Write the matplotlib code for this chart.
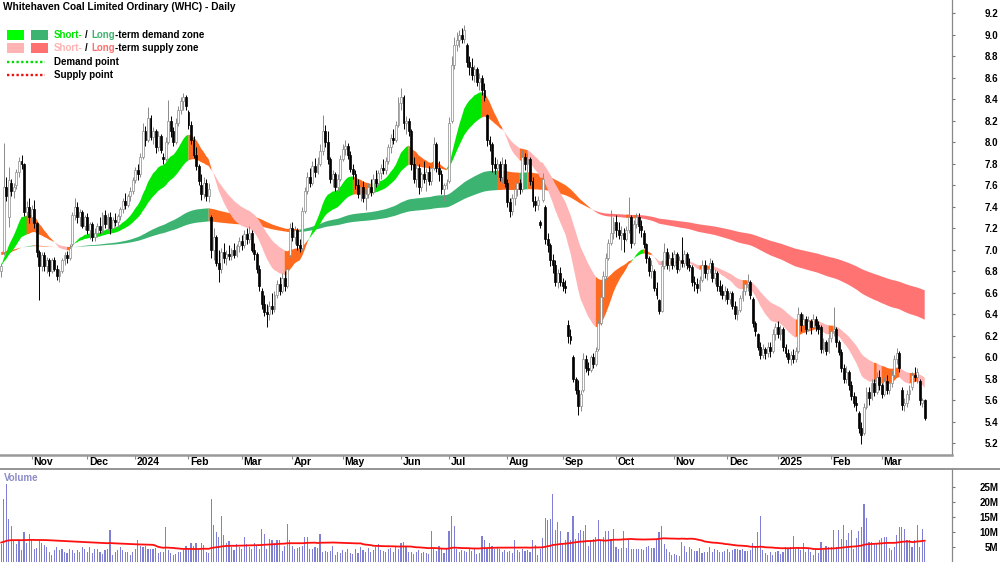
import numpy as np
import pandas as pd
import matplotlib
matplotlib.use('Agg')
import matplotlib.pyplot as plt
from matplotlib.lines import Line2D
from matplotlib.patches import Rectangle
import matplotlib.transforms as mtransforms

plt.rcParams['font.family'] = ['Liberation Sans', 'DejaVu Sans']

title = 'Whitehaven Coal Limited Ordinary (WHC) - Daily'

asx_holidays = ['2023-12-25', '2023-12-26', '2024-01-01', '2024-01-26', '2024-03-29',
                '2024-04-01', '2024-04-25', '2024-06-10', '2024-12-25', '2024-12-26',
                '2025-01-01', '2025-01-27']

# daily candles, 16 Oct 2023 .. 26 Mar 2025
opens = [
    6.80, 6.98, 7.58, 7.30, 7.62, 7.55, 7.60, 7.72, 7.82, 7.80,
    7.35, 7.40, 7.30, 7.38, 7.25, 6.98, 6.85, 6.95, 6.85, 6.90,
    6.80, 6.90, 6.82, 6.76, 6.80, 6.90, 6.95, 6.92, 7.05, 7.32,
    7.40, 7.30, 7.35, 7.22, 7.30, 7.18, 7.24, 7.12, 7.16, 7.22,
    7.18, 7.32, 7.24, 7.30, 7.20, 7.28, 7.26, 7.31, 7.38, 7.45,
    7.42, 7.50, 7.55, 7.65, 7.74, 7.70, 7.86, 8.10, 8.02, 8.22,
    8.05, 8.10, 7.95, 8.06, 7.86, 7.84, 8.00, 8.20, 8.10, 8.00,
    8.18, 8.30, 8.38, 8.42, 8.28, 8.16, 8.02, 7.88, 7.78, 7.60,
    7.52, 7.62, 7.50, 7.30, 7.00, 7.12, 6.88, 6.82, 6.98, 6.92,
    6.96, 6.94, 7.00, 6.95, 7.03, 7.08, 7.04, 7.15, 7.10, 7.16,
    7.00, 6.96, 6.82, 6.62, 6.50, 6.42, 6.40, 6.48, 6.45, 6.58,
    6.68, 6.62, 6.74, 6.66, 6.95, 7.20, 7.12, 7.18, 7.04, 7.02,
    7.36, 7.55, 7.68, 7.62, 7.78, 7.72, 7.80, 7.92, 8.10, 8.00,
    7.84, 7.66, 7.70, 7.58, 7.66, 7.84, 7.94, 7.96, 7.88, 7.75,
    7.70, 7.60, 7.52, 7.58, 7.48, 7.52, 7.58, 7.54, 7.66, 7.62,
    7.71, 7.76, 7.74, 7.82, 7.95, 8.04, 8.02, 8.16, 8.36, 8.42,
    8.18, 8.20, 8.10, 7.80, 7.66, 7.76, 7.58, 7.70, 7.66, 7.72,
    7.64, 7.76, 7.98, 7.76, 7.70, 7.56, 7.60, 7.64, 8.20, 8.72,
    8.90, 8.95, 9.00, 8.96, 8.90, 8.74, 8.70, 8.62, 8.68, 8.56,
    8.60, 8.48, 8.25, 8.02, 7.98, 7.80, 7.76, 7.80, 7.68, 7.80,
    7.62, 7.44, 7.36, 7.48, 7.56, 7.62, 7.56, 7.86, 7.80, 7.84,
    7.64, 7.45, 7.42, 7.26, 7.46, 7.40, 7.10, 7.04, 6.90, 6.86,
    6.70, 6.78, 6.70, 6.66, 6.30, 6.20, 6.00, 5.80, 5.70, 5.55,
    5.70, 5.98, 5.90, 5.88, 6.00, 5.94, 6.08, 6.32, 6.56, 6.76,
    6.92, 7.06, 7.16, 7.26, 7.18, 7.14, 7.16, 7.10, 7.18, 7.30,
    7.06, 7.24, 7.30, 7.22, 7.16, 7.05, 6.92, 6.80, 6.80, 6.64,
    6.53, 6.43, 6.85, 6.98, 6.86, 6.92, 6.86, 6.96, 6.82, 6.90,
    6.88, 6.96, 6.86, 6.84, 6.70, 6.68, 6.64, 6.72, 6.86, 6.78,
    6.82, 6.88, 6.74, 6.78, 6.66, 6.62, 6.58, 6.62, 6.54, 6.60,
    6.48, 6.40, 6.44, 6.55, 6.62, 6.68, 6.70, 6.54, 6.32, 6.22,
    6.10, 6.02, 6.08, 6.04, 6.10, 6.06, 6.22, 6.28, 6.22, 6.26,
    6.10, 6.04, 5.98, 6.02, 5.98, 6.06, 6.40, 6.30, 6.36, 6.26,
    6.34, 6.28, 6.36, 6.30, 6.28, 6.08, 6.14, 6.06, 6.18, 6.24,
    6.26, 6.14, 6.05, 5.90, 5.80, 5.86, 5.74, 5.64, 5.58, 5.48,
    5.34, 5.30, 5.54, 5.68, 5.62, 5.76, 5.68, 5.82, 5.74, 5.66,
    5.78, 5.70, 5.76, 5.84, 5.98, 6.04, 5.70, 5.56, 5.58, 5.66,
    5.72, 5.84, 5.82, 5.78, 5.58, 5.60,
]
highs = [
    6.88, 7.99, 7.68, 7.77, 7.66, 7.62, 7.75, 7.86, 7.88, 7.81,
    7.45, 7.48, 7.42, 7.46, 7.26, 7.00, 6.98, 6.98, 6.93, 6.92,
    6.92, 6.93, 6.86, 6.82, 6.92, 6.98, 6.99, 7.05, 7.35, 7.48,
    7.44, 7.38, 7.37, 7.32, 7.34, 7.26, 7.26, 7.20, 7.25, 7.30,
    7.35, 7.37, 7.34, 7.35, 7.30, 7.34, 7.33, 7.40, 7.48, 7.53,
    7.52, 7.58, 7.68, 7.77, 7.80, 7.90, 8.18, 8.15, 8.33, 8.25,
    8.14, 8.12, 8.10, 8.08, 7.90, 8.05, 8.39, 8.24, 8.14, 8.22,
    8.34, 8.42, 8.46, 8.44, 8.30, 8.20, 8.06, 7.95, 7.80, 7.70,
    7.68, 7.66, 7.62, 7.32, 7.20, 7.14, 7.00, 7.02, 7.06, 7.00,
    7.04, 7.02, 7.06, 7.05, 7.12, 7.14, 7.18, 7.20, 7.22, 7.18,
    7.06, 6.98, 6.86, 6.64, 6.58, 6.50, 6.52, 6.60, 6.62, 6.72,
    6.75, 6.78, 6.80, 6.86, 7.25, 7.26, 7.22, 7.20, 7.10, 7.40,
    7.58, 7.72, 7.76, 7.82, 7.85, 7.86, 7.98, 8.25, 8.16, 8.10,
    7.86, 7.74, 7.72, 7.70, 7.88, 7.98, 8.02, 7.99, 7.92, 7.80,
    7.74, 7.66, 7.62, 7.64, 7.56, 7.62, 7.66, 7.70, 7.74, 7.74,
    7.80, 7.84, 7.86, 7.98, 8.08, 8.12, 8.20, 8.42, 8.50, 8.44,
    8.24, 8.22, 8.12, 7.86, 7.80, 7.80, 7.72, 7.82, 7.76, 7.78,
    7.80, 8.05, 8.00, 7.82, 7.74, 7.62, 7.66, 8.23, 8.80, 8.98,
    9.02, 9.04, 9.06, 9.09, 8.92, 8.80, 8.78, 8.72, 8.70, 8.64,
    8.62, 8.55, 8.26, 8.06, 8.00, 7.86, 7.84, 7.82, 7.86, 7.84,
    7.66, 7.48, 7.52, 7.60, 7.66, 7.66, 7.93, 7.90, 7.90, 7.86,
    7.68, 7.50, 7.50, 7.28, 7.71, 7.42, 7.16, 7.06, 6.96, 6.90,
    6.82, 6.84, 6.74, 6.72, 6.35, 6.26, 6.02, 5.82, 5.79, 5.70,
    6.04, 6.02, 5.96, 6.02, 6.04, 6.10, 6.35, 6.60, 6.80, 6.97,
    7.10, 7.37, 7.30, 7.32, 7.26, 7.22, 7.20, 7.22, 7.49, 7.32,
    7.28, 7.34, 7.34, 7.28, 7.18, 7.06, 6.94, 6.90, 6.82, 6.70,
    6.54, 6.90, 7.06, 7.02, 6.96, 6.98, 7.00, 6.98, 6.94, 7.12,
    7.00, 6.98, 6.92, 6.86, 6.76, 6.74, 6.76, 6.90, 6.90, 6.86,
    6.92, 6.90, 6.82, 6.80, 6.72, 6.68, 6.66, 6.64, 6.62, 6.62,
    6.52, 6.48, 6.58, 6.66, 6.72, 6.77, 6.72, 6.56, 6.34, 6.23,
    6.14, 6.12, 6.10, 6.14, 6.14, 6.26, 6.32, 6.34, 6.30, 6.28,
    6.12, 6.08, 6.06, 6.08, 6.10, 6.47, 6.42, 6.40, 6.38, 6.38,
    6.36, 6.40, 6.38, 6.34, 6.30, 6.18, 6.16, 6.22, 6.28, 6.47,
    6.28, 6.16, 6.08, 5.94, 5.92, 5.88, 5.78, 5.68, 5.64, 5.50,
    5.40, 5.58, 5.72, 5.72, 5.80, 5.80, 5.86, 5.88, 5.76, 5.82,
    5.84, 5.80, 5.88, 6.02, 6.09, 6.06, 5.72, 5.62, 5.70, 5.74,
    5.86, 5.91, 5.90, 5.80, 5.62, 5.61,
]
lows = [
    6.75, 6.95, 7.45, 7.21, 7.50, 7.48, 7.56, 7.68, 7.75, 7.31,
    7.28, 7.25, 7.26, 7.20, 6.93, 6.53, 6.80, 6.80, 6.78, 6.76,
    6.78, 6.80, 6.72, 6.70, 6.78, 6.86, 6.88, 6.90, 7.03, 7.28,
    7.25, 7.22, 7.20, 7.18, 7.15, 7.10, 7.08, 7.08, 7.12, 7.16,
    7.16, 7.20, 7.18, 7.15, 7.18, 7.22, 7.21, 7.28, 7.34, 7.38,
    7.40, 7.45, 7.52, 7.62, 7.65, 7.68, 7.84, 7.96, 8.00, 8.02,
    7.98, 7.90, 7.92, 7.90, 7.80, 7.82, 7.98, 8.05, 7.96, 7.98,
    8.15, 8.26, 8.30, 8.30, 8.12, 7.98, 7.85, 7.74, 7.60, 7.46,
    7.48, 7.45, 7.44, 6.92, 6.90, 6.85, 6.70, 6.78, 6.88, 6.86,
    6.90, 6.90, 6.92, 6.93, 6.98, 7.00, 7.02, 7.05, 7.06, 6.98,
    6.90, 6.78, 6.62, 6.45, 6.38, 6.28, 6.35, 6.40, 6.42, 6.55,
    6.58, 6.60, 6.62, 6.64, 6.93, 7.08, 7.05, 7.00, 6.98, 7.00,
    7.34, 7.52, 7.58, 7.60, 7.68, 7.70, 7.78, 7.88, 7.95, 7.80,
    7.62, 7.58, 7.55, 7.55, 7.64, 7.82, 7.88, 7.84, 7.72, 7.66,
    7.56, 7.48, 7.45, 7.44, 7.37, 7.48, 7.50, 7.52, 7.58, 7.60,
    7.66, 7.70, 7.70, 7.80, 7.90, 7.98, 8.00, 8.14, 8.30, 8.12,
    8.08, 8.06, 7.74, 7.62, 7.58, 7.52, 7.55, 7.62, 7.55, 7.60,
    7.60, 7.74, 7.72, 7.64, 7.52, 7.45, 7.56, 7.62, 8.18, 8.68,
    8.85, 8.88, 8.92, 8.92, 8.70, 8.62, 8.58, 8.56, 8.52, 8.48,
    8.44, 8.38, 7.96, 7.92, 7.72, 7.70, 7.62, 7.64, 7.62, 7.58,
    7.40, 7.30, 7.32, 7.42, 7.50, 7.52, 7.54, 7.74, 7.72, 7.60,
    7.40, 7.36, 7.37, 7.20, 7.44, 7.05, 6.98, 6.85, 6.78, 6.66,
    6.64, 6.66, 6.62, 6.60, 6.13, 6.12, 5.77, 5.66, 5.46, 5.50,
    5.68, 5.86, 5.84, 5.86, 5.90, 5.92, 6.06, 6.30, 6.54, 6.72,
    6.90, 7.04, 7.10, 7.12, 7.10, 7.00, 6.98, 7.08, 7.16, 7.02,
    7.04, 7.20, 7.16, 7.12, 7.02, 6.88, 6.76, 6.74, 6.62, 6.54,
    6.40, 6.42, 6.82, 6.82, 6.80, 6.82, 6.84, 6.78, 6.80, 6.84,
    6.84, 6.82, 6.80, 6.66, 6.62, 6.60, 6.62, 6.70, 6.74, 6.72,
    6.78, 6.70, 6.68, 6.62, 6.58, 6.54, 6.52, 6.50, 6.50, 6.45,
    6.36, 6.35, 6.42, 6.52, 6.58, 6.62, 6.54, 6.28, 6.20, 6.07,
    5.98, 5.99, 5.98, 6.00, 6.00, 6.04, 6.16, 6.18, 6.16, 6.06,
    6.00, 5.95, 5.93, 5.95, 5.96, 6.04, 6.24, 6.26, 6.22, 6.24,
    6.22, 6.26, 6.24, 6.22, 6.04, 6.04, 6.02, 6.04, 6.14, 6.20,
    6.10, 6.02, 5.86, 5.76, 5.76, 5.70, 5.60, 5.54, 5.50, 5.30,
    5.19, 5.28, 5.52, 5.56, 5.60, 5.64, 5.66, 5.70, 5.62, 5.64,
    5.66, 5.66, 5.72, 5.82, 5.94, 5.86, 5.51, 5.50, 5.54, 5.60,
    5.70, 5.78, 5.76, 5.56, 5.54, 5.42,
]
closes = [
    6.85, 7.58, 7.50, 7.65, 7.55, 7.58, 7.72, 7.82, 7.80, 7.35,
    7.40, 7.30, 7.38, 7.25, 6.98, 6.85, 6.95, 6.85, 6.90, 6.80,
    6.90, 6.82, 6.76, 6.80, 6.90, 6.95, 6.92, 7.02, 7.32, 7.40,
    7.30, 7.35, 7.22, 7.30, 7.18, 7.24, 7.12, 7.16, 7.22, 7.18,
    7.32, 7.24, 7.30, 7.20, 7.28, 7.26, 7.31, 7.38, 7.45, 7.42,
    7.50, 7.55, 7.65, 7.74, 7.70, 7.86, 8.10, 8.02, 8.22, 8.05,
    8.10, 7.95, 8.06, 7.93, 7.84, 8.00, 8.20, 8.10, 8.00, 8.18,
    8.30, 8.38, 8.42, 8.34, 8.16, 8.02, 7.88, 7.78, 7.64, 7.52,
    7.62, 7.50, 7.56, 7.00, 7.12, 6.88, 6.82, 6.98, 6.92, 6.96,
    6.94, 7.00, 6.95, 7.03, 7.08, 7.04, 7.15, 7.10, 7.16, 7.00,
    6.96, 6.82, 6.66, 6.50, 6.42, 6.40, 6.48, 6.45, 6.58, 6.68,
    6.62, 6.74, 6.66, 6.82, 7.20, 7.12, 7.18, 7.04, 7.02, 7.36,
    7.55, 7.68, 7.62, 7.78, 7.72, 7.80, 7.92, 8.10, 8.00, 7.84,
    7.66, 7.70, 7.58, 7.66, 7.84, 7.94, 7.96, 7.88, 7.75, 7.70,
    7.60, 7.52, 7.58, 7.48, 7.52, 7.58, 7.54, 7.66, 7.62, 7.71,
    7.76, 7.74, 7.82, 7.95, 8.04, 8.02, 8.16, 8.36, 8.42, 8.18,
    8.20, 8.10, 7.80, 7.66, 7.76, 7.58, 7.70, 7.66, 7.72, 7.64,
    7.76, 7.98, 7.76, 7.70, 7.56, 7.60, 7.62, 8.18, 8.72, 8.90,
    8.95, 9.00, 8.96, 9.04, 8.74, 8.70, 8.62, 8.68, 8.56, 8.60,
    8.48, 8.42, 8.02, 7.98, 7.80, 7.76, 7.80, 7.68, 7.80, 7.62,
    7.44, 7.36, 7.48, 7.56, 7.62, 7.56, 7.86, 7.80, 7.84, 7.64,
    7.45, 7.42, 7.46, 7.23, 7.66, 7.10, 7.04, 6.90, 6.86, 6.70,
    6.78, 6.70, 6.66, 6.64, 6.20, 6.16, 5.80, 5.70, 5.55, 5.66,
    5.98, 5.90, 5.88, 6.00, 5.94, 6.06, 6.32, 6.56, 6.76, 6.92,
    7.06, 7.16, 7.26, 7.18, 7.14, 7.16, 7.10, 7.18, 7.30, 7.06,
    7.24, 7.30, 7.22, 7.18, 7.05, 6.92, 6.80, 6.86, 6.64, 6.58,
    6.43, 6.85, 6.98, 6.86, 6.92, 6.86, 6.96, 6.82, 6.90, 6.88,
    6.96, 6.86, 6.84, 6.70, 6.68, 6.64, 6.72, 6.86, 6.78, 6.82,
    6.88, 6.74, 6.78, 6.66, 6.62, 6.58, 6.62, 6.54, 6.60, 6.48,
    6.40, 6.44, 6.55, 6.62, 6.68, 6.70, 6.58, 6.32, 6.24, 6.10,
    6.02, 6.08, 6.04, 6.10, 6.06, 6.22, 6.28, 6.22, 6.26, 6.10,
    6.04, 5.98, 6.02, 5.98, 6.06, 6.40, 6.30, 6.36, 6.26, 6.34,
    6.28, 6.36, 6.30, 6.26, 6.08, 6.14, 6.06, 6.18, 6.24, 6.26,
    6.14, 6.05, 5.90, 5.80, 5.86, 5.74, 5.64, 5.58, 5.56, 5.34,
    5.28, 5.54, 5.68, 5.62, 5.76, 5.68, 5.82, 5.74, 5.66, 5.78,
    5.70, 5.76, 5.84, 5.98, 6.04, 5.90, 5.56, 5.58, 5.66, 5.70,
    5.84, 5.82, 5.86, 5.60, 5.60, 5.44,
]
# volume in millions of shares
volume_m = [
    6, 21, 26, 14.5, 12, 7, 6, 7.5, 4, 10,
    6.5, 9.5, 7.5, 4.5, 4.8, 7.5, 6.2, 5.8, 5, 3.5,
    2.5, 4, 5, 4, 4.5, 3.5, 3, 4.5, 4, 3,
    4, 3.5, 5, 4.5, 3.5, 5, 3, 4.5, 4.5, 3.5,
    2.8, 4, 4.5, 10.8, 2.5, 3.5, 4, 5, 4, 3.5,
    3.5, 2.5, 3.5, 4.5, 7.5, 5.5, 5, 5.5, 4.5, 4.5,
    4.2, 4.8, 3, 3.5, 3.5, 11.8, 4, 3, 2.5, 2.8,
    3.2, 3.5, 4, 5.5, 4.2, 6.5, 5.5, 6.2, 4.5, 6.5,
    5.8, 3.5, 3, 21, 12.5, 10, 8.5, 15.5, 9, 6.5,
    7, 5, 4, 6, 5, 4.5, 8.2, 6, 5, 4.2,
    6.5, 5.5, 4.5, 11, 9.2, 4.5, 7.7, 7.5, 6.5, 7.5,
    7.5, 3.8, 5.5, 12.7, 7.5, 5.5, 4.5, 4.8, 5, 5.5,
    8.2, 8.5, 4.2, 4.5, 5, 4.8, 9.3, 3.5, 3.8, 3.2,
    3.8, 5.5, 2.5, 3.3, 3, 4, 3.5, 4.2, 3, 2.7,
    4.5, 3, 5, 4, 3.5, 4.6, 3.5, 4, 5, 6,
    4, 3.8, 3.5, 4.2, 4.8, 3.5, 5, 4.5, 6.3, 6.8,
    5.5, 3.2, 3.5, 2.8, 3.2, 4, 3, 3.5, 3, 2.8,
    10.5, 4.2, 3.8, 5.5, 4.5, 3, 4.2, 10.2, 15.5, 12,
    4.5, 3.5, 4, 3.8, 3.2, 4.5, 3.6, 4.5, 2.8, 3,
    8.8, 7.5, 4.5, 6.5, 5.5, 4.2, 5, 4.5, 3.5, 4,
    3.2, 3.8, 3, 7.3, 4, 3.5, 4.5, 3.8, 4, 3.5,
    7.4, 5.8, 2.5, 4.5, 8, 14.7, 14, 14.3, 22.7, 10.8,
    13.2, 10.4, 6.5, 7.5, 10.1, 7.5, 15.2, 7.7, 9.7, 10.7,
    10.4, 12.3, 5.5, 7.5, 7.7, 8.5, 14.1, 7.5, 8.5, 10.4,
    10.4, 7.8, 11, 5, 4.5, 4.8, 10.4, 4.8, 7.5, 4.5,
    4.5, 4.2, 4.5, 4.5, 4, 5, 5.5, 4.6, 4.8, 7.5,
    10, 11.9, 6, 4.5, 3.5, 2.2, 2.8, 2.5, 2, 6.8,
    5.2, 3.5, 5, 4.5, 3.8, 3.8, 4.8, 3, 3.5, 3.3,
    5, 3.5, 4.2, 4, 3.2, 3.5, 3.7, 4.2, 3.5, 4,
    4.2, 4.5, 4, 4.5, 3.8, 3.6, 4, 6.5, 5, 10,
    15.4, 4, 3, 2.5, 3.2, 2.5, 3.5, 3.8, 2.8, 3.5,
    5, 4.2, 5, 8.8, 4.5, 5, 4, 6.5, 3.5, 4.5,
    3.5, 2.5, 4.5, 3, 6.8, 4, 5.5, 5, 5, 10.7,
    5, 10.7, 7.6, 12.3, 7.5, 9.7, 10.8, 4.5, 8, 10.4,
    11.6, 19.3, 14.7, 6.8, 6.8, 6.5, 6.5, 7.2, 8, 8.5,
    8.3, 4.8, 4, 5, 9, 11.6, 11.6, 11, 7.5, 7.5,
    5, 7.5, 12.3, 5, 11, 6.8,
]

# starting levels of the averages, read at the left edge
short_seed = (6.85, 6.85)
long_seed = (6.95, 6.98)
vol_avg_seed = 6.5

short_spans = (20, 40)
long_spans = (150, 250)
vol_avg_window = 60

price_ticks = np.round(np.arange(5.2, 9.21, 0.2), 1)
vol_ticks = [5, 10, 15, 20, 25]

W, H = 1000, 562


def ema(values, span, seed):
    a = 2.0 / (span + 1)
    out = np.empty(len(values))
    prev = seed
    for i, v in enumerate(values):
        prev = prev + a * (v - prev)
        out[i] = prev
    return out


def draw_ribbon(ax, x, fast, slow, up_col, dn_col, mid_col):
    rising = np.r_[True, np.diff(fast) > 0]
    up = (fast >= slow) & rising
    dn = (fast < slow) & ~rising
    mid = ~(up | dn)
    for mask, col in ((up, up_col), (dn, dn_col), (mid, mid_col)):
        w = mask.copy()
        w[:-1] |= mask[1:]
        ax.fill_between(x, fast, slow, where=w, color=col, lw=0, zorder=1)


o = np.array(opens)
h = np.array(highs)
l = np.array(lows)
c = np.array(closes)
vol = np.array(volume_m)
n = len(c)
x = np.arange(n)

dates = pd.bdate_range('2023-10-16', '2025-04-30', freq='C', holidays=asx_holidays)[:n]

fig = plt.figure(figsize=(W / 100, H / 100), dpi=100)
ax = fig.add_axes([0, 1 - 455 / H, 952 / W, 455 / H])
axv = fig.add_axes([0, 0, 952 / W, 93 / H])

xlim = (-0.5, 375.8)

# ribbons
sf = ema(c, short_spans[0], short_seed[0])
ss = ema(c, short_spans[1], short_seed[1])
lf = ema(c, long_spans[0], long_seed[0])
ls = ema(c, long_spans[1], long_seed[1])
orange = '#FF6A1F'
draw_ribbon(ax, x, lf, ls, '#3CB371', '#FF7373', orange)
draw_ribbon(ax, x, sf, ss, '#00E600', '#FFB5B5', orange)

# candles
up = c >= o
grey = '#8a8a8a'
ax.vlines(x[up], l[up], h[up], color=grey, lw=0.7, zorder=3)
ax.vlines(x[~up], l[~up], h[~up], color='black', lw=0.7, zorder=3)
body = np.maximum(np.abs(c - o), 0.01)
bottom = np.minimum(o, c)
ax.bar(x[up], body[up], bottom=bottom[up], width=0.75, facecolor='white',
       edgecolor=grey, lw=0.5, zorder=4)
ax.bar(x[~up], body[~up], bottom=bottom[~up], width=0.75, facecolor='black',
       edgecolor='black', lw=0.5, zorder=4)

ax.set_xlim(*xlim)
ax.set_ylim(9.2 - (455 - 13) / 107.6, 9.2 + 13 / 107.6)
ax.yaxis.tick_right()
ax.set_yticks(price_ticks)
ax.set_yticklabels([f'{v:.1f}' for v in price_ticks])
ax.tick_params(axis='y', direction='out', length=2.5, color='#777777', pad=31,
               labelsize=7, width=0.8)
for lab in ax.get_yticklabels():
    lab.set_horizontalalignment('right')
    lab.set_fontweight('bold')
for side in ('left', 'top'):
    ax.spines[side].set_visible(False)
ax.spines['right'].set_color('#888888')
ax.spines['right'].set_linewidth(0.9)
ax.spines['bottom'].set_color('#999999')
ax.spines['bottom'].set_linewidth(1.8)

# month ticks
month_start = [i for i in range(1, n) if dates[i].month != dates[i - 1].month]
month_lab = [str(dates[i].year) if dates[i].month == 1 else dates[i].strftime('%b')
             for i in month_start]
ax.set_xticks(month_start)
ax.set_xticklabels([])
ax.tick_params(axis='x', direction='out', length=3, color='#888888', width=0.8)
lab_tr = mtransforms.offset_copy(ax.get_xaxis_transform(), fig=fig, x=1.5, y=-7, units='dots')
for i, s in zip(month_start, month_lab):
    ax.text(i, 0, s, transform=lab_tr, ha='left', va='center', fontsize=7.5,
            fontweight='bold', color='black')

# volume
axv.bar(x, vol, width=0.45, color='#7F7FD5', lw=0)
padded = np.r_[np.full(vol_avg_window - 1, vol_avg_seed), vol]
vol_avg = pd.Series(padded).rolling(vol_avg_window).mean().to_numpy()[vol_avg_window - 1:]
axv.plot(x, vol_avg, color='#FF1010', lw=1.3)
axv.set_xlim(*xlim)
axv.set_ylim(0, 93 / 3)
axv.yaxis.tick_right()
axv.set_yticks(vol_ticks)
axv.set_yticklabels([f'{v}M' for v in vol_ticks])
axv.tick_params(axis='y', direction='out', length=2.5, color='#777777', pad=31,
                labelsize=7, width=0.8)
for lab in axv.get_yticklabels():
    lab.set_horizontalalignment('right')
    lab.set_fontweight('bold')
axv.set_xticks([])
for side in ('left', 'top', 'bottom'):
    axv.spines[side].set_visible(False)
axv.spines['right'].set_color('#888888')
axv.spines['right'].set_linewidth(0.9)
fig.add_artist(Line2D([0, 1], [1 - 469 / H, 1 - 469 / H], color='#8c8c8c', lw=1.3))
fig.text(4 / W, 1 - 478 / H, 'Volume', color='#8C8CC8', fontsize=7, fontweight='bold',
         va='center', ha='left')


# title and legend
def px(xp, yp):
    return xp / W, 1 - yp / H


fig.text(*px(3, 7), title, fontsize=7.3, fontweight='bold', va='center', ha='left')

renderer = fig.canvas.get_renderer()


def width_of(s):
    t = fig.text(0, 0, s, fontsize=7, fontweight='bold')
    w = t.get_window_extent(renderer).width
    t.remove()
    return w


def legend_row(yp, short_col, long_col, rest):
    x0 = 54
    pieces = [('Short-', short_col, 0),
              ('/', 'black', width_of('Short- /') - width_of('/')),
              ('Long', long_col, width_of('Short- / L') - width_of('L')),
              (rest, 'black', width_of('Short- / Long'))]
    for s, col, off in pieces:
        fig.text(*px(x0 + off, yp), s, color=col, fontsize=7, fontweight='bold',
                 va='center', ha='left')


for yp, c1, c2 in ((30, '#00FF00', '#3CB371'), (43, '#FFB3B3', '#FF7070')):
    for xp, col in ((7, c1), (31, c2)):
        fig.add_artist(Rectangle(px(xp, yp + 10), 17 / W, 10 / H, facecolor=col,
                                 edgecolor='none', transform=fig.transFigure))
legend_row(35, '#00E600', '#3CB371', '-term demand zone')
legend_row(48, '#FFB3B3', '#FF6F6F', '-term supply zone')
for yp, col, s in ((62, '#00DD00', 'Demand point'), (75, '#EE1111', 'Supply point')):
    fig.add_artist(Line2D([7 / W, 45 / W], [1 - yp / H] * 2, color=col, lw=1.7,
                          linestyle=(0, (1, 1))))
    fig.text(*px(54, yp), s, fontsize=7, fontweight='bold', va='center', ha='left')

fig.savefig('out.png', dpi=100)
